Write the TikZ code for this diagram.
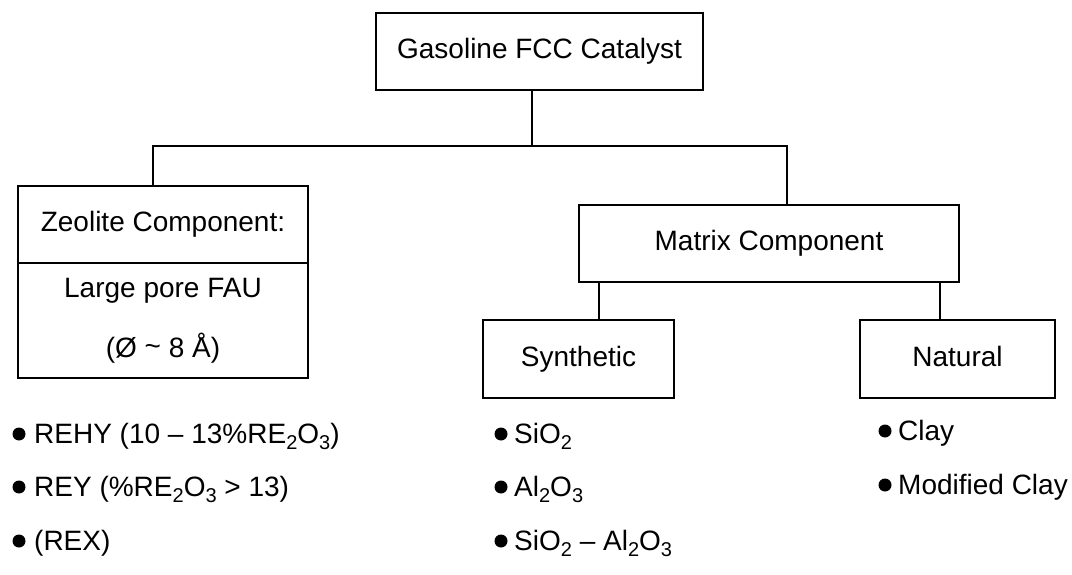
\documentclass[tikz,border=0pt]{standalone}
\usepackage{fontspec}
\setmainfont{Liberation Sans}
% chemical subscripts: smaller figure, dropped below the baseline
\newcommand{\chemsub}[1]{\raisebox{-6pt}{\fontsize{20}{21}\selectfont #1}}
\begin{document}
\begin{tikzpicture}[x=1pt,y=-1pt,
  font=\fontsize{28}{33}\selectfont,
  box/.style={draw, line width=2pt, inner sep=0pt, outer sep=0pt, align=center},
  oneline/.style={text height=20pt, text depth=6pt},
  link/.style={line width=2pt},
  item/.style={anchor=base west, inner sep=0pt, text height=24pt, text depth=6pt},
  dot/.style={fill=black}]
\useasboundingbox (0,0) rectangle (1072,575);

% boxes
\node[box, oneline, minimum width=327pt, minimum height=77pt] (top) at (539.5,51.5) {Gasoline FCC Catalyst};
\node[box, oneline, minimum width=290pt, minimum height=77pt] (zeoA) at (163,224.5) {Zeolite Component:};
\node[box, minimum width=290pt, minimum height=115pt, anchor=north] (zeoB) at (zeoA.south)
  {Large pore FAU\\[27pt](Ø \raisebox{0.1ex}{\char`~} 8 Å)};
\node[box, oneline, minimum width=380pt, minimum height=77pt] (mat) at (769,243.5) {Matrix Component};
\node[box, oneline, minimum width=191pt, minimum height=78pt] (syn) at (578.5,359) {Synthetic};
\node[box, oneline, minimum width=195pt, minimum height=78pt] (nat) at (957.5,359) {Natural};

% connectors
\coordinate (jT) at (532,146);
\coordinate (jL) at (153,146);
\coordinate (jR) at (787,146);
\coordinate (jS) at (599,300);
\coordinate (jN) at (940,300);
\draw[link] (jT |- top.south) -- (jT);
\draw[link] (jL |- zeoA.north) -- (jL) -- (jR) -- (jR |- mat.north);
\draw[link] (jS |- mat.south) -- (jS |- syn.north);
\draw[link] (jN |- mat.south) -- (jN |- nat.north);

% bullet lists (west anchor sits 9pt above the baseline)
\node[item] (r1) at (34,443) {REHY (10 – 13\%RE\chemsub{2}O\chemsub{3})};
\node[item] (r2) at (34,496) {REY (\%RE\chemsub{2}O\chemsub{3} > 13)};
\node[item] (r3) at (34,550) {(REX)};
\node[item] (s1) at (514,443) {SiO\chemsub{2}};
\node[item] (s2) at (514,496) {Al\chemsub{2}O\chemsub{3}};
\node[item] (s3) at (514,550) {SiO\chemsub{2} – Al\chemsub{2}O\chemsub{3}};
\node[item] (n1) at (898,440) {Clay};
\node[item] (n2) at (898,494) {Modified Clay};

\foreach \n in {r1,r2,r3} \fill[dot] ([xshift=-15pt]\n.west) circle (6.5pt);
\foreach \n in {s1,s2,s3,n1,n2} \fill[dot] ([xshift=-13pt]\n.west) circle (6.5pt);
\end{tikzpicture}
\end{document}
